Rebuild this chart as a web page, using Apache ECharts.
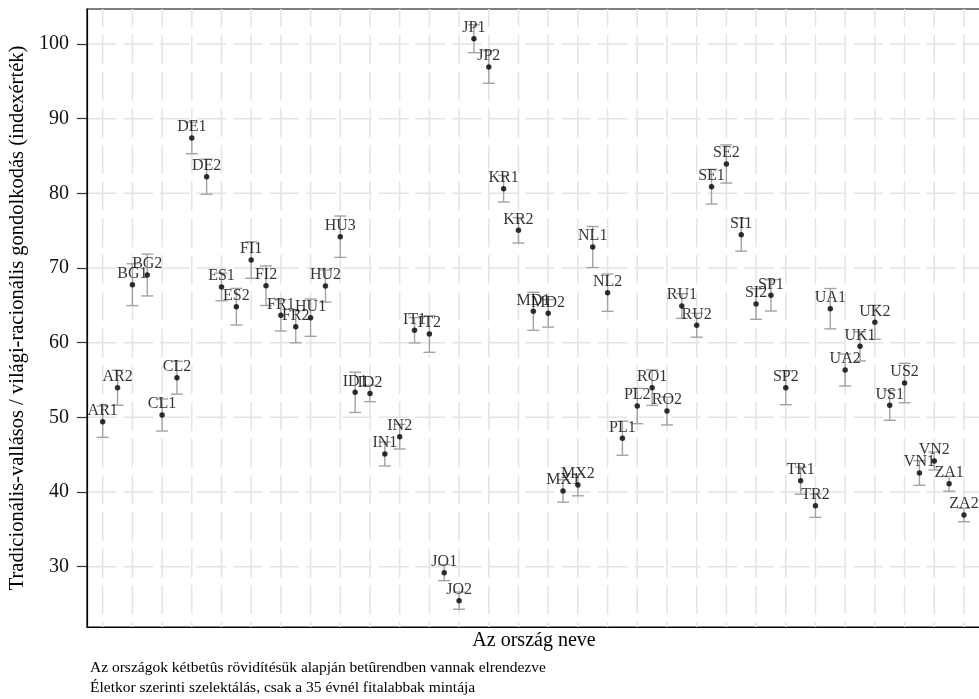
<!DOCTYPE html>
<html>
<head>
<meta charset="utf-8">
<script src="https://cdn.jsdelivr.net/npm/echarts@6/dist/echarts.min.js"></script>
<style>html,body{margin:0;padding:0;background:#fff}#c{width:979px;height:699px}</style>
</head>
<body>
<div id="c"></div>
<script>
const categories = ['AR1','AR2','BG1','BG2','CL1','CL2','DE1','DE2','ES1','ES2','FI1','FI2','FR1','FR2','HU1','HU2','HU3','ID1','ID2','IN1','IN2','IT1','IT2','JO1','JO2','JP1','JP2','KR1','KR2','MD1','MD2','MX1','MX2','NL1','NL2','PL1','PL2','RO1','RO2','RU1','RU2','SE1','SE2','SI1','SI2','SP1','SP2','TR1','TR2','UA1','UA2','UK1','UK2','US1','US2','VN1','VN2','ZA1','ZA2'];
const values = [49.42,53.97,67.77,69.06,50.31,55.31,87.41,82.23,67.46,64.82,71.07,67.63,63.66,62.14,63.35,67.59,74.19,53.35,53.2,45.09,47.41,61.66,61.16,29.2,25.45,100.71,96.92,80.62,75.05,64.2,63.93,40.14,40.94,72.81,66.7,47.2,51.52,53.97,50.85,64.91,62.33,80.89,83.93,74.46,65.18,66.34,53.97,41.52,38.17,64.55,56.34,59.51,62.73,51.61,54.6,42.55,44.15,41.11,36.92];
const errors = [2.1,2.35,2.8,2.8,2.15,2.2,2.1,2.35,1.85,2.45,2.45,2.65,2.1,2.15,2.5,2.15,2.77,2.7,1.1,1.6,1.65,1.7,2.45,1.07,1.15,1.87,2.18,1.78,1.7,2.55,1.85,1.5,1.45,2.75,2.5,2.28,2.37,2.37,1.87,1.65,1.6,2.32,2.55,2.2,2.05,2.1,2.28,1.82,1.56,2.7,2.14,1.96,2.28,2.0,2.64,1.65,1.2,1.0,0.9];
const yTicks = [30,40,50,60,70,80,90,100];
const yTitle = 'Tradicionális-vallásos / világi-racionális gondolkodás (indexérték)';
const xTitle = 'Az ország neve';
const notes = ['Az országok kétbetûs rövidítésük alapján betûrendben vannak elrendezve',
               'Életkor szerinti szelektálás, csak a 35 évnél fitalabbak mintája'];

const FONT = "'Liberation Serif','Times New Roman',serif";

// grid line definitions: [orientation (0 = vertical at category index, 1 = horizontal at y tick), value]
const gridDefs = [];
categories.forEach((c,i) => { if (i % 2 === 0) gridDefs.push([0, i]); });
yTicks.forEach(v => gridDefs.push([1, v]));

const chart = echarts.init(document.getElementById('c'), null, {renderer:'canvas'});
chart.setOption({
  animation:false,
  backgroundColor:'#fff',
  grid:{left:87, right:-2, top:9, bottom:72, outerBoundsMode:'none', containLabel:false,
        show:true, borderColor:'#000', borderWidth:1.2, backgroundColor:'transparent'},
  xAxis:{
    type:'value', min:-1.057, max:59.147,
    axisLine:{show:true, onZero:false, lineStyle:{color:'#000', width:1.2}},
    axisTick:{show:false}, axisLabel:{show:false}, splitLine:{show:false},
    name:xTitle, nameLocation:'middle', nameGap:4,
    nameTextStyle:{fontFamily:FONT, fontSize:20, color:'#000', verticalAlign:'top'}
  },
  yAxis:{
    type:'value', min:21.92, max:104.69,
    axisLine:{show:true, onZero:false, lineStyle:{color:'#000', width:1.2}},
    axisTick:{show:true, length:10, customValues:yTicks, lineStyle:{color:'#333', width:1.2}},
    axisLabel:{customValues:yTicks, fontFamily:FONT, fontSize:20, color:'#111', margin:18},
    splitLine:{show:false},
    name:yTitle, nameLocation:'middle', nameGap:58,
    nameTextStyle:{fontFamily:FONT, fontSize:20.5, color:'#000'}
  },
  graphic:[
    {type:'text', left:90, top:660, style:{text:notes[0], font:'15.5px ' + FONT, fill:'#000'}},
    {type:'text', left:90, top:680, style:{text:notes[1], font:'15.5px ' + FONT, fill:'#000'}}
  ],
  series:[
    {
      type:'custom', z:0, silent:true, clip:true,
      data:gridDefs,
      renderItem:function(params, api){
        const cs = params.coordSys;
        const o = api.value(0), v = api.value(1);
        if (o === 0) {
          const x = api.coord([v, 50])[0];
          return {type:'line', shape:{x1:x, y1:cs.y + cs.height, x2:x, y2:cs.y},
            style:{stroke:'#e4e4e4', lineWidth:1.5, lineDash:[29,7.7], lineDashOffset:24}};
        }
        const y = api.coord([0, v])[1];
        return {type:'line', shape:{x1:cs.x, y1:y, x2:cs.x + cs.width, y2:y},
          style:{stroke:'#e4e4e4', lineWidth:1.5, lineDash:[29.5,7], lineDashOffset:0}};
      }
    },
    {
      type:'custom', z:2, silent:true,
      data:categories.map((c,i)=>[i, values[i], errors[i]]),
      renderItem:function(params, api){
        const x = api.value(0), y = api.value(1), e = api.value(2);
        const t = api.coord([x, y + e]);
        const b = api.coord([x, y - e]);
        const hw = 6;
        const st = {stroke:'#a3a3a3', lineWidth:1.4};
        return {type:'group', children:[
          {type:'line', shape:{x1:t[0],y1:t[1],x2:b[0],y2:b[1]}, style:st},
          {type:'line', shape:{x1:t[0]-hw,y1:t[1],x2:t[0]+hw,y2:t[1]}, style:st},
          {type:'line', shape:{x1:b[0]-hw,y1:b[1],x2:b[0]+hw,y2:b[1]}, style:st}
        ]};
      }
    },
    {
      type:'scatter', z:3, silent:true,
      symbolSize:5.5,
      itemStyle:{color:'#000'},
      data:categories.map((c,i)=>[i, values[i]]),
      label:{show:true, position:'top', distance:0,
        formatter:function(p){ return categories[p.dataIndex]; },
        fontFamily:FONT, fontSize:16, color:'#000'}
    }
  ]
});
</script>
</body>
</html>
